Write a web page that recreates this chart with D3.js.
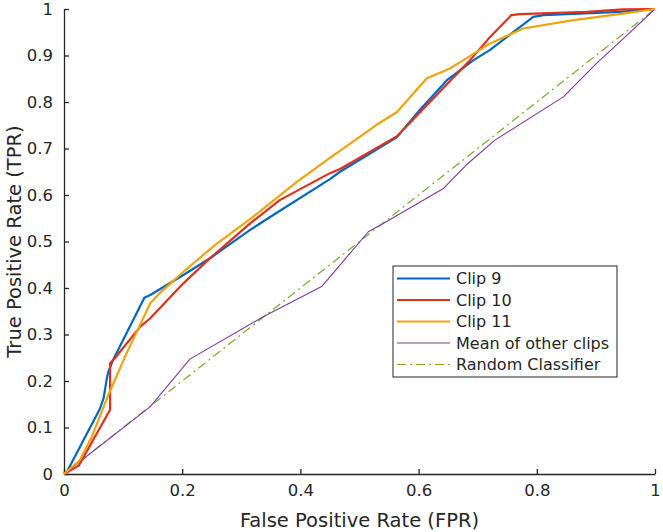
<!DOCTYPE html>
<meta charset="UTF-8">
<style>
body { margin: 0; background: #fff; }
svg text { font-family: "DejaVu Sans", sans-serif; fill: #262626; }
.axis path, .axis line { stroke: #262626; stroke-width: 1.3px; }
</style>
<body>
<script src="https://d3js.org/d3.v7.min.js"></script>
<script>

// ROC points, [FPR, TPR]
var clip9 = [[0,0],[0.005,0.005],[0.061,0.141],[0.067,0.163],[0.072,0.202],[0.075,0.22],[0.083,0.245],
  [0.136,0.379],[0.146,0.385],[0.202,0.428],[0.247,0.464],[0.315,0.525],[0.354,0.557],[0.45,0.634],
  [0.467,0.65],[0.563,0.724],[0.602,0.783],[0.648,0.847],[0.693,0.89],[0.721,0.912],[0.794,0.983],
  [0.811,0.987],[0.941,0.994],[1,1]];
var clip10 = [[0,0],[0.025,0.018],[0.078,0.138],[0.078,0.238],[0.086,0.249],[0.129,0.317],[0.146,0.335],
  [0.202,0.41],[0.247,0.464],[0.315,0.539],[0.365,0.589],[0.45,0.647],[0.467,0.656],[0.563,0.726],
  [0.687,0.89],[0.721,0.94],[0.757,0.987],[0.772,0.989],[0.884,0.994],[0.946,0.999],[1,1]];
var clip11 = [[0,0],[0.027,0.03],[0.047,0.08],[0.075,0.17],[0.106,0.26],[0.146,0.367],[0.162,0.389],
  [0.202,0.435],[0.258,0.495],[0.315,0.548],[0.394,0.628],[0.45,0.68],[0.529,0.751],[0.563,0.778],
  [0.614,0.851],[0.653,0.872],[0.676,0.89],[0.721,0.926],[0.777,0.958],[0.862,0.976],[0.946,0.99],[1,1]];
var meanOther = [[0,0],[0.146,0.145],[0.213,0.247],[0.337,0.338],[0.436,0.403],[0.515,0.521],
  [0.546,0.543],[0.642,0.614],[0.681,0.665],[0.729,0.718],[0.845,0.811],[0.901,0.883],[0.941,0.93],[1,1]];
var randomCls = [[0,0],[1,1]];

var seriesNames = ["Clip 9", "Clip 10", "Clip 11", "Mean of other clips", "Random Classifier"];
var seriesData = [clip9, clip10, clip11, meanOther, randomCls];
var seriesColors = ["#0068c0", "#e0301a", "#f0a30a", "#8534a3", "#77ac30"];
var seriesWidths = [2.2, 2.2, 2.2, 1.1, 1.2];
var seriesDash = [null, null, null, null, "9,4,2,4"];

var xTicks = [0, 0.2, 0.4, 0.6, 0.8, 1];
var yTicks = [0, 0.1, 0.2, 0.3, 0.4, 0.5, 0.6, 0.7, 0.8, 0.9, 1];

var width = 663, height = 532;
var margin = {top: 9, right: 8, bottom: 58, left: 64};

var svg = d3.select("body").append("svg")
    .attr("width", width)
    .attr("height", height);

var x = d3.scaleLinear().domain([0, 1]).range([margin.left, width - margin.right]);
var y = d3.scaleLinear().domain([0, 1]).range([height - margin.bottom, margin.top]);

var fmt = function(d) { return d === 0 || d === 1 ? d : d3.format(".1f")(d); };

// axes, ticks pointing inwards
var xAxis = svg.append("g")
    .attr("class", "axis")
    .attr("transform", "translate(0," + y(0) + ")")
    .call(d3.axisBottom(x).tickValues(xTicks).tickSizeInner(-5).tickSizeOuter(0).tickPadding(10).tickFormat(fmt));
xAxis.selectAll("text").style("font-size", "16.5px");

var yAxis = svg.append("g")
    .attr("class", "axis")
    .attr("transform", "translate(" + x(0) + ",0)")
    .call(d3.axisLeft(y).tickValues(yTicks).tickSizeInner(-5).tickSizeOuter(0).tickPadding(11).tickFormat(fmt));
yAxis.selectAll("text").style("font-size", "16.5px");

// axis labels
svg.append("text")
    .attr("x", (x(0) + x(1)) / 2)
    .attr("y", 527)
    .attr("text-anchor", "middle")
    .style("font-size", "19.5px")
    .text("False Positive Rate (FPR)");

svg.append("text")
    .attr("transform", "translate(21," + (y(0) + y(1)) / 2 + ") rotate(-90)")
    .attr("text-anchor", "middle")
    .style("font-size", "19.5px")
    .text("True Positive Rate (TPR)");

var line = d3.line()
    .x(function(d) { return x(d[0]); })
    .y(function(d) { return y(d[1]); });

// draw back to front: reference, mean, then clips
[4, 3, 0, 1, 2].forEach(function(i) {
  svg.append("path")
      .datum(seriesData[i])
      .attr("fill", "none")
      .attr("stroke", seriesColors[i])
      .attr("stroke-width", seriesWidths[i])
      .attr("stroke-dasharray", seriesDash[i])
      .attr("stroke-linejoin", "round")
      .attr("d", line);
});

// legend
var legend = svg.append("g").attr("transform", "translate(393,266)");
legend.append("rect")
    .attr("width", 224)
    .attr("height", 111)
    .attr("fill", "#fff")
    .attr("stroke", "#262626")
    .attr("stroke-width", 1);

seriesNames.forEach(function(name, i) {
  var ry = 12.5 + i * 21.5;
  legend.append("line")
      .attr("x1", 4).attr("x2", 57)
      .attr("y1", ry).attr("y2", ry)
      .attr("stroke", seriesColors[i])
      .attr("stroke-width", seriesWidths[i])
      .attr("stroke-dasharray", seriesDash[i]);
  legend.append("text")
      .attr("x", 63)
      .attr("y", ry)
      .attr("dy", "0.35em")
      .style("font-size", "16px")
      .text(name);
});

</script>
</body>
